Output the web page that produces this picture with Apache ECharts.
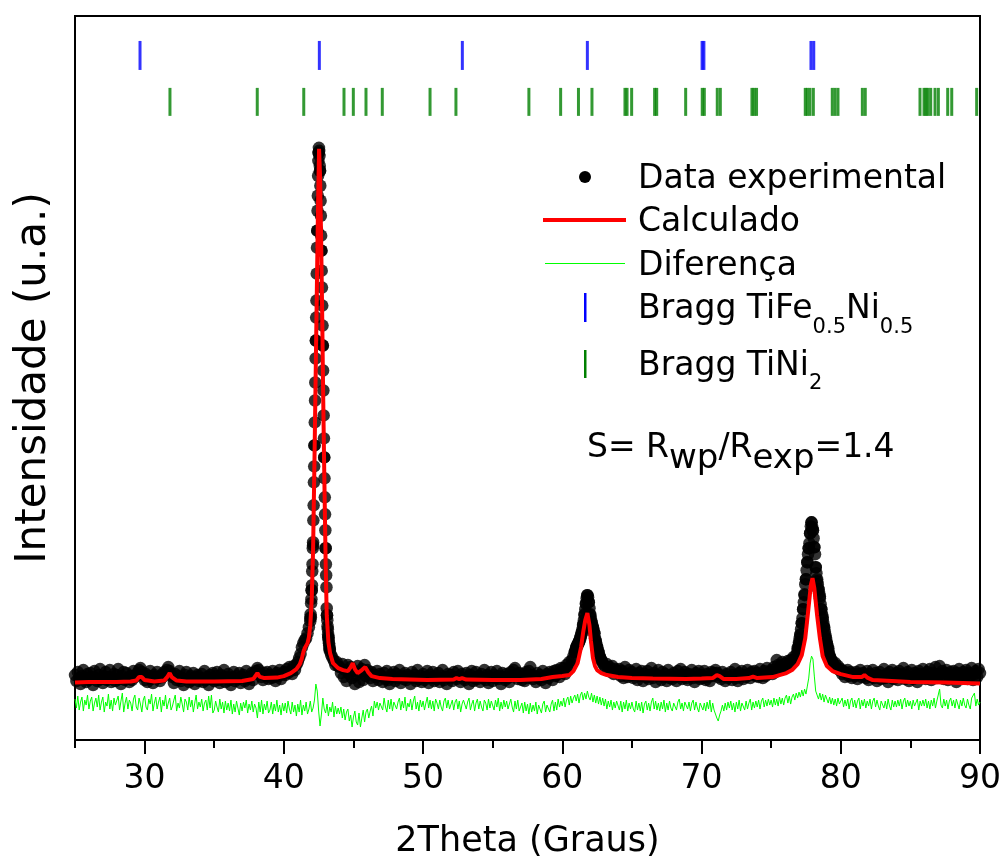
<!DOCTYPE html>
<html><head><meta charset="utf-8">
<script src="https://cdn.jsdelivr.net/npm/echarts@6/dist/echarts.min.js"></script>
<style>html,body{margin:0;padding:0;background:#fff}#chart{width:1004px;height:856px}</style>
</head><body><div id="chart"></div>
<script>
// ---- Data (2theta in degrees, intensity in arbitrary units) ----
const scanStart = 25, scanStep = 0.1;
const obsCounts = [
130,118,136,124,112,128,140,122,116,132,
120,134,126,110,138,124,118,130,142,122,
114,128,136,120,126,140,116,124,132,118,
130,142,122,112,128,136,120,134,124,116,
128,120,138,126,132,130,140,144,136,128,
120,132,116,128,138,122,114,130,126,136,
124,118,130,126,136,132,140,146,138,130,
126,114,132,120,128,138,118,124,110,130,
136,122,116,128,120,134,112,126,130,118,
124,132,116,138,120,126,110,130,122,134,
118,128,136,120,114,130,124,140,116,126,
132,120,110,126,136,118,128,122,134,114,
126,130,118,138,122,112,128,134,120,132,
138,144,140,132,126,120,134,128,136,122,
130,124,138,126,118,134,128,140,122,132,
136,130,142,134,146,138,132,148,140,150,
156,164,172,186,194,200,204,214,226,244,
300,390,590,800,1020,1176,1140,980,790,566,
384,250,206,182,170,164,158,150,156,148,
146,134,152,126,140,118,150,132,146,124,
138,112,130,148,116,136,142,120,150,128,
140,132,124,136,118,130,126,138,120,132,
128,116,134,122,138,120,112,130,126,136,
118,132,124,140,114,128,122,134,120,130,
126,112,136,124,130,118,140,122,128,116,
132,120,126,138,114,130,124,136,118,128,
122,134,116,128,140,120,126,112,132,124,
130,118,136,126,122,138,128,116,132,124,
120,134,126,112,130,138,118,124,136,122,
128,116,132,124,140,120,130,114,126,136,
118,130,124,138,122,128,112,134,126,120,
132,124,116,136,128,140,144,130,122,134,
126,120,132,118,136,124,138,146,130,122,
128,116,134,124,130,120,138,126,114,132,
124,136,130,120,138,128,140,132,126,144,
136,144,132,150,140,156,148,160,168,176,
184,190,196,204,214,230,250,272,290,276,
250,236,226,214,198,186,176,166,160,154,
150,144,152,140,146,136,148,132,142,138,
134,142,128,138,124,146,132,126,140,130,
136,124,130,142,120,134,128,138,118,132,
126,138,122,130,144,124,134,116,130,140,
128,120,136,126,132,118,140,124,130,122,
134,126,118,138,128,142,122,130,136,124,
120,132,128,140,124,116,134,126,138,122,
130,124,138,120,132,126,118,136,128,134,
140,134,126,130,122,136,128,118,132,124,
126,136,120,130,142,124,118,134,128,138,
122,130,126,140,132,124,136,130,138,128,
134,126,142,130,124,138,128,144,132,136,
140,132,146,136,160,150,142,148,156,144,
152,146,158,150,160,156,166,162,170,184,
196,212,234,262,290,322,356,384,414,436,
420,386,346,322,302,284,262,242,226,210,
194,180,168,160,156,150,154,144,148,140,
142,132,138,126,134,140,128,136,124,132,
128,136,122,132,140,126,134,130,124,138,
120,132,126,140,124,134,118,130,136,122,
128,142,124,132,116,136,126,140,122,130,
134,120,138,126,132,144,122,130,136,118,
126,140,122,134,128,116,138,132,124,142,
130,122,136,126,142,120,134,128,146,124,
132,148,126,138,122,134,140,120,130,136,
124,138,130,116,134,142,126,122,136,128,
140,122,134,128,144,120,132,138,126,142,
134];
// denser scan points across the three strong reflections
const peakAStart = 41.9, peakAStep = 0.02;
const peakACounts = [
238,252,246,274,282,300,310,338,352,384,
396,440,470,516,548,590,636,680,716,764,
800,846,880,934,986,1020,1060,1090,1130,1160,
1176,1186,1180,1170,1150,1140,1110,1080,1050,1010,
980,940,906,870,830,790,740,700,650,604,
566,524,486,452,420,384,352,330,306,264,
250,240,228,222,212,206,200,194,190,184,
178];
const peakBStart = 60.9, peakBStep = 0.05;
const peakBCounts = [
176,180,186,188,192,194,198,200,206,210,
216,222,232,240,252,262,274,284,290,286,
276,264,252,244,236,230,224,220,214,204,
198,192,186,180,176,170,166,162,160];
const peakCStart = 76.9, peakCStep = 0.05;
const peakCCounts = [
178,186,192,204,210,222,234,244,262,276,
292,312,322,340,356,372,384,394,414,428,
436,426,420,404,386,372,346,334,318,312,
302,294,288,272,262,252,246,234,226,218,
206,202,194,188,184,174,168,164,162,158,
154];
const calcTheta = [25,26,27,28,29,29.4,29.6,29.7,29.8,30,30.7,31.4,31.65,31.8,31.95,32.3,33,35,37,37.8,37.95,38.1,38.25,38.6,39.5,40,40.5,40.9,41.15,41.3,41.4,41.5,41.7,41.8,41.9,42,42.1,42.2,42.3,42.37,42.45,42.53,42.6,42.68,42.75,42.82,42.9,43,43.08,43.2,43.32,43.53,43.9,44.25,44.6,44.8,44.95,45.1,45.3,45.6,45.85,46.05,46.3,46.9,47.8,50.3,52.2,52.4,52.6,52.8,53.1,55,57,58.5,59.3,60,60.5,60.8,61.1,61.35,61.5,61.65,61.8,61.95,62.05,62.2,62.35,62.5,62.8,63.2,64,65,66.5,68.9,70,70.8,71.1,71.3,71.6,72.5,73.4,73.7,74,75.1,76.1,76.5,76.9,77.2,77.45,77.65,77.85,77.97,78.1,78.3,78.5,78.7,79,79.4,80,80.9,81.5,81.7,81.9,82.3,85,87.5,90];
const calcCounts = [115,116,116,116,117,119,126,130,126,120,117,119,127,134,126,119,117,117,118,122,128,134,127,124,125,128,134,142,152,164,176,184,194,206,230,280,380,560,760,900,1060,1184,1130,1000,860,700,540,360,250,196,174,154,144,140,138,146,154,142,134,140,146,136,128,124,122,120,121,124,122,124,121,120,120,122,126,128,130,138,154,186,216,240,254,230,200,164,148,140,134,130,126,124,123,122,123,124,130,128,122,122,124,127,124,126,134,140,152,170,204,256,310,324,304,250,204,168,148,138,132,126,126,130,125,120,116,115,113];
const diffCounts = [
82,64,88,60,76,86,58,80,70,90,
62,78,86,58,74,84,66,90,60,76,
86,56,76,68,92,62,80,58,84,70,
66,88,60,78,94,56,74,86,62,80,
74,58,82,90,66,60,84,72,56,80,
88,66,60,82,72,92,58,74,86,62,
76,86,56,80,68,90,62,74,84,60,
68,80,90,58,74,64,86,72,56,82,
76,60,86,66,80,56,74,90,62,76,
66,82,58,74,80,60,88,64,90,54,
60,78,66,56,82,62,76,54,78,60,
74,58,80,52,72,56,78,64,50,74,
58,76,64,80,54,72,60,78,56,72,
64,44,76,56,80,52,72,60,78,54,
60,76,52,72,58,80,56,70,50,74,
58,74,54,78,62,52,76,56,70,48,
72,56,80,50,70,58,76,52,62,78,
56,64,80,112,98,58,28,52,84,62,
54,72,48,66,56,76,46,68,52,64,
52,66,44,62,40,56,62,38,50,26,
46,58,36,30,54,26,44,60,36,56,
62,44,58,68,48,78,64,76,60,74,
78,60,84,66,56,80,62,82,58,76,
80,62,76,84,60,78,64,86,58,74,
66,82,60,78,88,62,76,58,80,66,
78,60,74,86,64,80,62,78,58,82,
74,62,80,66,58,78,84,64,80,62,
66,80,60,76,82,62,78,56,72,80,
78,62,76,84,60,72,80,58,74,82,
62,78,66,58,80,74,60,82,64,78,
74,60,80,66,84,58,76,62,80,66,
78,62,60,82,66,56,78,62,80,58,
60,74,54,76,58,72,52,74,56,70,
58,76,52,70,74,54,72,78,56,70,
74,56,72,80,58,76,60,82,66,78,
68,84,66,80,86,70,88,74,84,90,
78,92,74,90,96,80,94,82,98,86,
80,94,76,90,74,88,72,86,70,84,
68,82,62,78,66,80,60,76,64,78,
74,60,78,56,76,62,80,58,74,62,
76,62,56,78,60,74,58,76,54,72,
78,60,74,58,76,84,62,78,60,74,
58,76,62,80,56,74,60,78,64,58,
74,78,60,76,82,62,74,58,76,80,
62,76,58,74,80,60,76,64,56,74,
78,60,74,58,76,62,80,56,74,60,
58,44,38,50,58,70,58,74,60,76,
64,78,60,74,56,76,62,80,58,74,
76,60,78,62,74,82,60,76,64,78,
66,80,62,78,84,66,80,68,82,70,
80,66,84,70,82,68,86,72,84,70,
84,90,74,88,72,86,92,80,94,84,
96,86,100,88,102,92,108,124,154,168,
162,128,98,90,82,94,80,92,76,90,
88,74,86,72,84,70,82,68,84,72,
70,84,66,80,68,82,62,78,84,66,
80,64,78,84,62,80,68,82,64,78,
68,82,62,78,84,66,80,68,60,78,
80,64,78,62,82,68,60,80,66,78,
66,80,68,82,62,78,84,66,80,68,
78,62,80,68,66,82,60,78,68,80,
68,82,64,78,62,80,68,84,64,78,
80,102,70,64,82,68,80,62,78,84,
68,80,64,82,78,62,80,68,84,70,
64,82,70,62,84,80,94,68,82,70,
76];
const braggTiFeNiTheta = [29.67,42.55,52.82,61.80,70.04,70.17,77.86,78.06];
const braggTiNi2Theta = [31.82,38.09,41.43,44.32,44.99,45.90,47.07,50.50,52.36,57.60,59.88,61.16,62.13,64.50,64.65,64.98,66.63,66.78,68.86,70.05,70.20,71.13,71.35,73.62,73.77,73.95,77.45,77.60,77.79,78.03,79.39,79.59,79.80,81.55,81.76,85.69,85.98,86.12,86.26,86.46,86.77,87.01,87.68,87.97,89.76];
const braggTiFeNiLevel = 1371;
const braggTiNi2Level = 1278;
const xMajorTicks = [30,40,50,60,70,80,90];
const xMinorTicks = [25,35,45,55,65,75,85];

// ---- Build ----
function scan(start, step, vals){ return vals.map((v,i)=>[+(start+i*step).toFixed(3), v]); }
const obsData = scan(scanStart, scanStep, obsCounts)
  .concat(scan(peakAStart, peakAStep, peakACounts))
  .concat(scan(peakBStart, peakBStep, peakBCounts))
  .concat(scan(peakCStart, peakCStep, peakCCounts));
const calcData = calcTheta.map((t,i)=>[t, calcCounts[i]]);
const diffData = scan(scanStart, scanStep, diffCounts);
const braggA = braggTiFeNiTheta.map(t=>[t, braggTiFeNiLevel]);
const braggB = braggTiNi2Theta.map(t=>[t, braggTiNi2Level]);

const FF = 'DejaVu Sans';
const chart = echarts.init(document.getElementById('chart'), null, {renderer:'canvas'});
const mainTok = {fontFamily:FF, fontSize:33, lineHeight:36, verticalAlign:'top', color:'#000'};
const subTok = {fontFamily:FF, fontSize:21, lineHeight:21, padding:[24,0,0,0], verticalAlign:'top', color:'#000'};
const sub2Tok = {fontFamily:FF, fontSize:34, lineHeight:34, padding:[11,0,0,0], verticalAlign:'top', color:'#000'};
function legendText(y, txt){
  return {type:'text', z:100, style:{x:638, y:y, text:txt, fontFamily:FF, fontSize:33, fill:'#000', verticalAlign:'middle'}};
}
chart.setOption({
  animation:false,
  backgroundColor:'#fff',
  grid:{left:75, right:24, top:16, bottom:116, outerBoundsMode:'none', containLabel:false,
    show:true, borderColor:'#000', borderWidth:2, backgroundColor:'transparent'},
  xAxis:[{
    type:'value', min:25, max:90, position:'bottom',
    name:'2Theta (Graus)', nameLocation:'middle', nameGap:84,
    nameTextStyle:{fontFamily:FF, fontSize:35, color:'#000'},
    axisLine:{show:true, lineStyle:{color:'#000', width:2}},
    axisTick:{show:true, customValues:xMajorTicks, length:14, lineStyle:{color:'#000', width:2}},
    axisLabel:{show:true, customValues:xMajorTicks, margin:23, fontFamily:FF, fontSize:33, color:'#000'},
    splitLine:{show:false}
  },{
    type:'value', min:25, max:90, position:'bottom', gridIndex:0,
    axisLine:{show:false},
    axisTick:{show:true, customValues:xMinorTicks, length:8, lineStyle:{color:'#000', width:2}},
    axisLabel:{show:false},
    splitLine:{show:false}
  }],
  yAxis:{
    type:'value', min:0, max:1450,
    name:'Intensidade (u.a.)', nameLocation:'middle', nameGap:20,
    nameTextStyle:{fontFamily:FF, fontSize:42, color:'#000'},
    axisLine:{show:true, lineStyle:{color:'#000', width:2}},
    axisTick:{show:false}, axisLabel:{show:false}, splitLine:{show:false}
  },
  series:[
    {name:'Data experimental', type:'scatter', xAxisIndex:0, data:obsData, symbol:'circle', symbolSize:12.5,
      itemStyle:{color:'#000'}, z:2},
    {name:'Calculado', type:'line', xAxisIndex:0, data:calcData, showSymbol:false, symbol:'none',
      lineStyle:{color:'#ff0000', width:4}, z:3},
    {name:'Diferença', type:'line', xAxisIndex:0, data:diffData, showSymbol:false, symbol:'none',
      lineStyle:{color:'#00ff00', width:1}, z:3},
    {name:'Bragg TiFe0.5Ni0.5', type:'scatter', xAxisIndex:0, data:braggA, symbol:'rect', symbolSize:[3,29],
      itemStyle:{color:'#0000ff'}, z:4},
    {name:'Bragg TiNi2', type:'scatter', xAxisIndex:0, data:braggB, symbol:'rect', symbolSize:[3,28],
      itemStyle:{color:'#008000'}, z:4}
  ],
  graphic:[
    {type:'circle', z:100, shape:{cx:585, cy:177, r:6}, style:{fill:'#000'}},
    {type:'line', z:100, shape:{x1:543, y1:220, x2:626, y2:220}, style:{stroke:'#ff0000', lineWidth:4}},
    {type:'line', z:100, shape:{x1:545, y1:263.5, x2:625, y2:263.5}, style:{stroke:'#00ff00', lineWidth:1}},
    {type:'rect', z:100, shape:{x:584, y:293, width:2.5, height:29}, style:{fill:'#0000ff'}},
    {type:'rect', z:100, shape:{x:584, y:350, width:2.5, height:28}, style:{fill:'#008000'}},
    legendText(179, 'Data experimental'),
    legendText(222.5, 'Calculado'),
    legendText(266.5, 'Diferença'),
    {type:'text', z:100, style:{x:638, y:293, verticalAlign:'top', text:'{m|Bragg TiFe}{s|0.5}{m|Ni}{s|0.5}', rich:{m:mainTok, s:subTok}}},
    {type:'text', z:100, style:{x:638, y:349.5, verticalAlign:'top', text:'{m|Bragg TiNi}{s|2}', rich:{m:mainTok, s:subTok}}},
    {type:'text', z:100, style:{x:587, y:431.5, verticalAlign:'top', text:'{m|S= R}{s|wp}{m|/R}{s|exp}{m|=1.4}', rich:{m:mainTok, s:sub2Tok}}}
  ]
});
</script></body></html>
